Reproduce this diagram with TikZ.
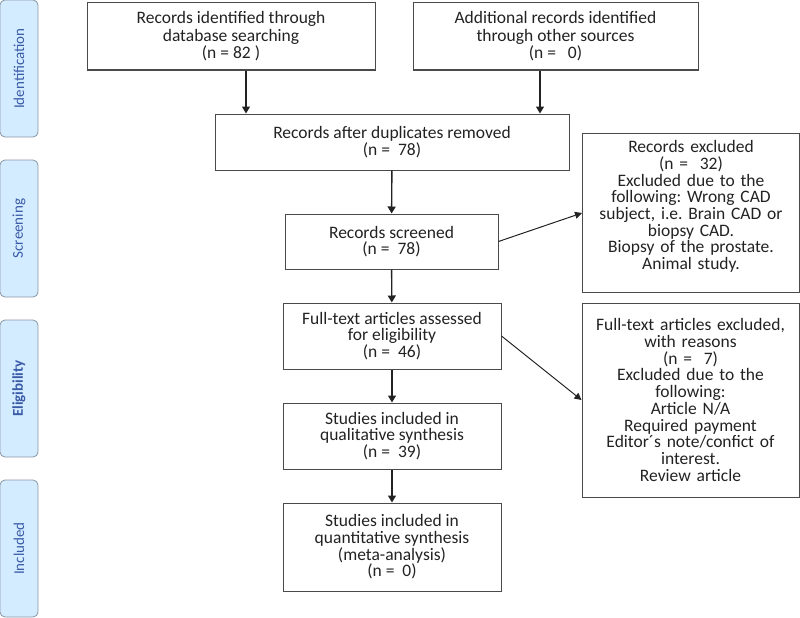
\documentclass[tikz,border=0pt]{standalone}
\usepackage{fontspec}
\setmainfont{Carlito}
\usetikzlibrary{arrows.meta,positioning}
\definecolor{sidefill}{HTML}{D3ECFF}
\definecolor{sidedraw}{HTML}{8A96A3}
\definecolor{sidetext}{HTML}{3A5BA8}
\definecolor{boxdraw}{HTML}{4A4A4A}
\definecolor{txt}{HTML}{222222}
\begin{document}
\frenchspacing
\begin{tikzpicture}[x=1pt,y=-1pt,
  box/.style={draw=boxdraw, line width=1pt, rectangle, inner sep=0pt, align=center,
    text=txt, font=\fontsize{17.5}{16.7}\selectfont},
  side/.style={draw=sidedraw, fill=sidefill, line width=0.8pt, rounded corners=5pt,
    inner sep=0pt, minimum width=137pt, minimum height=38pt, rotate=90,
    text=sidetext, font=\fontsize{15}{17}\selectfont},
  arr/.style={draw=txt, line width=1.4pt, -{Triangle[width=8pt,length=7pt]}},
  sarr/.style={draw=txt, line width=1pt, -{Triangle[width=7pt,length=7pt]}}]
\useasboundingbox (0,0) rectangle (800,618);
% side labels
\node[side] (s1) at (19,68.5) {Identification};
\node[side] (s2) at (19,228.5) {Screening};
\node[side, font=\bfseries\fontsize{15}{17}\selectfont] (s3) at (19,388.5) {Eligibility};
\node[side] (s4) at (19,548.5) {Included};
% boxes
\node[box, minimum width=288pt, minimum height=67pt, font=\fontsize{17.5}{17.5}\selectfont] (A) at (231,36.5)
  {Records identified through\\database searching\\(n = 82 )};
\node[box, minimum width=285pt, minimum height=67pt, font=\fontsize{17.5}{17.5}\selectfont] (B) at (555.5,36.5)
  {Additional records identified\\through other sources\\(n = \ \ 0)};
\node[box, minimum width=354pt, minimum height=56pt] (C) at (392,142)
  {Records after duplicates removed\\(n = \ 78)};
\node[box, minimum width=213pt, minimum height=55pt] (D) at (391.5,241.5)
  {Records screened\\(n = \ 78)};
\node[box, minimum width=217pt, minimum height=159pt, anchor=north west] (E) at (582,133) {};
\node[box, draw=none, anchor=north, text width=217pt] (Et) at ([yshift=-7pt]E.north)
  {Records excluded\\(n = \ 32)\\Excluded due to the\\following: Wrong CAD\\subject, i.e. Brain CAD or\\biopsy CAD.\\Biopsy of the prostate.\\Animal study.};
\node[box, minimum width=218pt, minimum height=66pt] (F) at (392,336)
  {Full-text articles assessed\\for eligibility\\(n = \ 46)};
\node[box, minimum width=217pt, minimum height=194pt, text width=217pt] (G) at (690.5,400)
  {Full-text articles excluded,\\with reasons\\(n = \ 7)\\Excluded due to the\\following:\\Article N/A\\Required payment\\Editor´s note/confict of\\interest.\\Review article};
\node[box, minimum width=218pt, minimum height=66pt] (H) at (392,436)
  {Studies included in\\qualitative synthesis\\(n = \ 39)};
\node[box, minimum width=218pt, minimum height=88pt] (I) at (392,547)
  {Studies included in\\quantitative synthesis\\(meta-analysis)\\(n = \ 0)};
% connectors
\coordinate (ax) at (246,0);
\coordinate (bx) at (540,0);
\draw[arr] (A.south -| ax) -- (C.north -| ax);
\draw[arr] (B.south -| bx) -- (C.north -| bx);
\draw[arr] (C) -- (D);
\draw[arr] (D) -- (F);
\draw[arr] (F) -- (H);
\draw[arr] (H) -- (I);
\draw[sarr] (D.east) -- (E.west);
\draw[sarr] (F.east) -- (G.west);
\end{tikzpicture}
\end{document}
